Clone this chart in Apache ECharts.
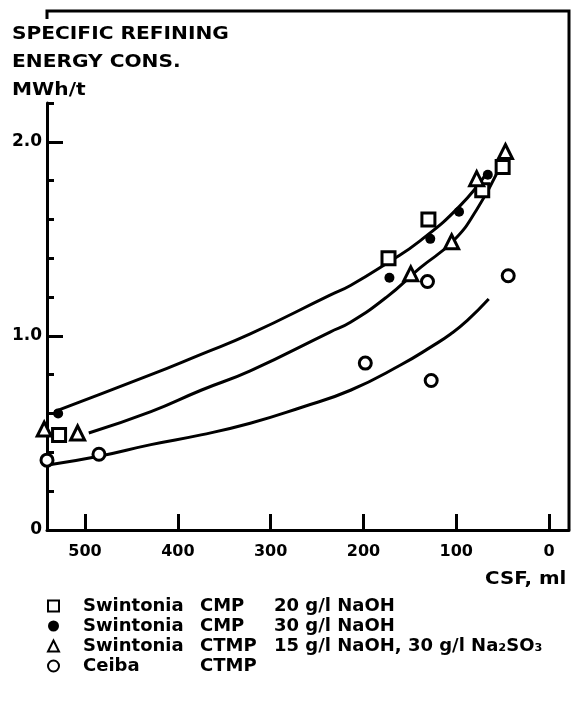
<!DOCTYPE html>
<html>
<head>
<meta charset="utf-8">
<script src="https://cdn.jsdelivr.net/npm/echarts@6/dist/echarts.min.js"></script>
<style>html,body{margin:0;padding:0;background:#fff}#c{width:572px;height:702px}</style>
</head>
<body>
<div id="c"></div>
<script>
// ---- data ----
const seriesNames = [
  'Swintonia CMP 20 g/l NaOH',
  'Swintonia CMP 30 g/l NaOH',
  'Swintonia CTMP 15 g/l NaOH, 30 g/l Na₂SO₃',
  'Ceiba CTMP'
];
const legendParts = [
  ['Swintonia', 'CMP', '20 g/l NaOH'],
  ['Swintonia', 'CMP', '30 g/l NaOH'],
  ['Swintonia', 'CTMP', '15 g/l NaOH, 30 g/l Na₂SO₃'],
  ['Ceiba', 'CTMP', '']
];
// CSF (ml) and energy (MWh/t)
const cmp20X = [528, 173, 130, 72, 50];
const cmp20Y = [0.49, 1.40, 1.60, 1.75, 1.87];
const cmp30X = [529, 172, 128, 97, 66];
const cmp30Y = [0.60, 1.30, 1.50, 1.64, 1.83];
const ctmpX = [544, 508, 149, 105, 78, 47];
const ctmpY = [0.52, 0.50, 1.32, 1.485, 1.81, 1.95];
const ceibaX = [541, 485, 198, 131, 127, 44];
const ceibaY = [0.36, 0.39, 0.86, 1.28, 0.77, 1.31];
// fitted curves
const upperCurveX = [533, 429, 375, 322, 236, 214, 173, 139, 96, 67];
const upperCurveY = [0.61, 0.80, 0.905, 1.01, 1.21, 1.26, 1.38, 1.49, 1.67, 1.84];
const middleCurveX = [496, 429, 375, 322, 236, 214, 175, 139, 103, 78, 56];
const middleCurveY = [0.50, 0.61, 0.72, 0.82, 1.02, 1.07, 1.20, 1.35, 1.49, 1.65, 1.84];
const lowerCurveX = [540, 485, 429, 375, 322, 268, 214, 160, 125, 106, 88, 65];
const lowerCurveY = [0.335, 0.38, 0.44, 0.49, 0.55, 0.63, 0.72, 0.85, 0.95, 1.01, 1.08, 1.19];
// axes
const xTickValues = [0, 100, 200, 300, 400, 500];
const yTickLabels = ['0', '1.0', '2.0'];
const yTitleLines = ['SPECIFIC REFINING', 'ENERGY CONS.', 'MWh/t'];
const xTitle = 'CSF, ml';

// ---- layout ----
const W = 572, H = 702;
const gA = {left: 47, right: 3, top: 103, bottom: 172};
const xMinA = -21.5, xMaxA = 541, yMinA = 0, yMaxA = 2.2;
const kx = (W - gA.left - gA.right) / (xMaxA - xMinA);
const ky = (H - gA.top - gA.bottom) / (yMaxA - yMinA);
const gB = {
  left: gA.left + (xMaxA - 500) * kx,
  right: gA.right + (0 - xMinA) * kx,
  top: gA.top + (yMaxA - 2.0) * ky,
  bottom: gA.bottom
};
const zip = (xs, ys) => xs.map((x, i) => [x, ys[i]]);
const F = '"DejaVu Sans", sans-serif';
const black = '#000';

const lineSeries = (name, xs, ys) => ({
  name, type: 'line', xAxisIndex: 0, yAxisIndex: 0,
  data: zip(xs, ys), smooth: 0.5, symbol: 'none',
  lineStyle: {color: black, width: 3}, silent: true, z: 2
});
const openStyle = {color: '#fff', borderColor: black, borderWidth: 3, opacity: 1};
const txt = (sz) => ({color: black, fontFamily: F, fontWeight: 'bold', fontSize: sz, lineHeight: 20});

const chart = echarts.init(document.getElementById('c'), null, {renderer: 'canvas'});
chart.setOption({
  backgroundColor: '#fff',
  animation: false,
  grid: [
    {left: gA.left, right: gA.right, top: gA.top, bottom: gA.bottom},
    {left: gB.left, right: gB.right, top: gB.top, bottom: gB.bottom}
  ],
  xAxis: [
    {type: 'value', gridIndex: 0, inverse: true, min: xMinA, max: xMaxA, position: 'bottom',
     axisLine: {show: true, onZero: false, lineStyle: {color: black, width: 3}},
     axisTick: {show: false}, axisLabel: {show: false}, splitLine: {show: false}},
    {type: 'value', gridIndex: 1, inverse: true, min: 0, max: 500, interval: 100, position: 'bottom',
     axisLine: {show: false, onZero: false},
     axisTick: {show: true, inside: true, length: 16, lineStyle: {color: black, width: 3}},
     axisLabel: {show: true, margin: 14, color: black, fontFamily: F, fontWeight: 'bold', fontSize: 16,
       formatter: v => xTickValues.includes(v) ? String(v) : ''},
     splitLine: {show: false}}
  ],
  yAxis: [
    {type: 'value', gridIndex: 0, min: yMinA, max: yMaxA, interval: 0.2, position: 'left',
     axisLine: {show: true, onZero: false, lineStyle: {color: black, width: 3}},
     axisTick: {show: true, inside: true, length: 7, lineStyle: {color: black, width: 3}},
     axisLabel: {show: false}, splitLine: {show: false}},
    {type: 'value', gridIndex: 1, min: 0, max: 2, interval: 1, position: 'left', offset: gB.left - gA.left,
     axisLine: {show: false, onZero: false},
     axisTick: {show: true, inside: true, length: 16, lineStyle: {color: black, width: 3}},
     axisLabel: {show: true, margin: 5, color: black, fontFamily: F, fontWeight: 'bold', fontSize: 17,
       formatter: v => yTickLabels[Math.round(v)]},
     splitLine: {show: false}}
  ],
  legend: {
    data: seriesNames, orient: 'vertical', left: 47, top: 596, itemGap: 0, padding: 0,
    itemWidth: 11, itemHeight: 11, selectedMode: false,
    formatter: name => {
      const p = legendParts[seriesNames.indexOf(name)];
      return '{a|' + p[0] + '}{b|' + p[1] + '}{c|' + p[2] + '}';
    },
    textStyle: Object.assign(txt(18), {
      padding: [0, 0, 0, 19],
      rich: {
        a: Object.assign(txt(18), {width: 117}),
        b: Object.assign(txt(18), {width: 74}),
        c: txt(18)
      }
    })
  },
  graphic: [
    {type: 'polyline', silent: true, z: 10,
     shape: {points: [[gA.left, 19], [gA.left, 11], [W - gA.right, 11], [W - gA.right, H - gA.bottom]]},
     style: {stroke: black, lineWidth: 3, fill: null}},
    {type: 'text', x: 12, y: 20, scaleX: 1.12, silent: true,
     style: {text: yTitleLines.join('\n'), font: 'bold 18px ' + F, lineHeight: 28, fill: black}},
    {type: 'text', x: 485, y: 570, scaleX: 1.1, silent: true,
     style: {text: xTitle, font: 'bold 18px ' + F, fill: black}}
  ],
  series: [
    lineSeries('upper', upperCurveX, upperCurveY),
    lineSeries('middle', middleCurveX, middleCurveY),
    lineSeries('lower', lowerCurveX, lowerCurveY),
    {name: seriesNames[0], type: 'scatter', data: zip(cmp20X, cmp20Y), symbol: 'rect', symbolSize: 13,
     itemStyle: openStyle, clip: false, z: 5},
    {name: seriesNames[1], type: 'scatter', data: zip(cmp30X, cmp30Y), symbol: 'circle', symbolSize: 10,
     itemStyle: {color: black, opacity: 1}, clip: false, z: 5},
    {name: seriesNames[2], type: 'scatter', data: zip(ctmpX, ctmpY), symbol: 'triangle', symbolSize: 14,
     itemStyle: openStyle, clip: false, z: 5},
    {name: seriesNames[3], type: 'scatter', data: zip(ceibaX, ceibaY), symbol: 'circle', symbolSize: 12,
     itemStyle: openStyle, clip: false, z: 5}
  ]
});
</script>
</body>
</html>
